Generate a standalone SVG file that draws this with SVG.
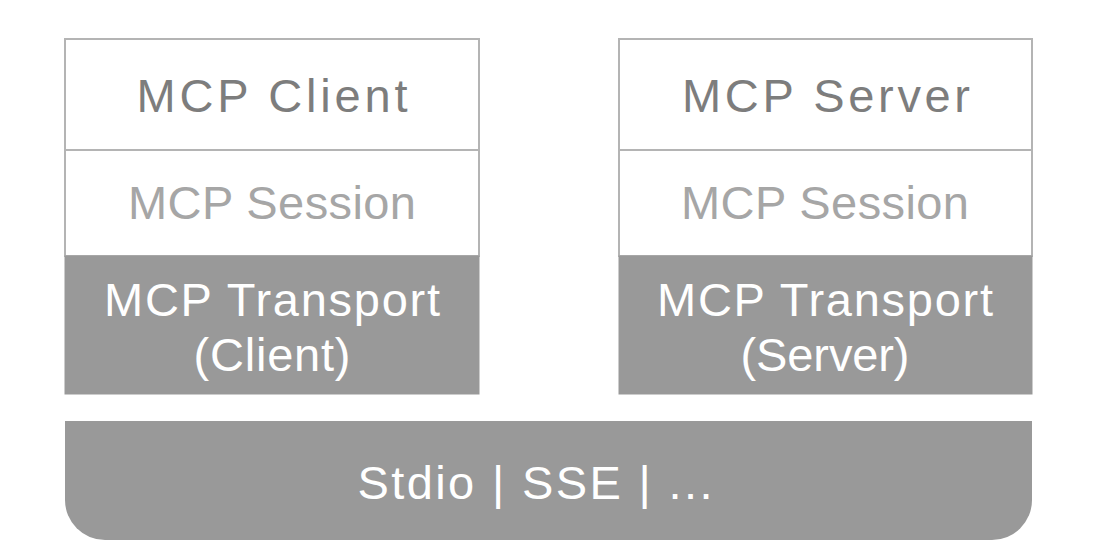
<svg xmlns="http://www.w3.org/2000/svg" width="1098" height="560" viewBox="0 0 1098 560">
<style>
.box{fill:#fff;stroke:#b4b4b4;stroke-width:2}
.dark{fill:#999;stroke:#999;stroke-width:1}
.t{font-family:"Liberation Sans",Arial,sans-serif;font-size:47px;text-anchor:middle}
.title{fill:#7d7d7d}
.sess{fill:#a6a6a6}
.w{fill:#fff}
</style>
<rect width="1098" height="560" fill="#fff"/>
<g id="client-stack">
  <g id="mcp-client">
    <rect class="box" x="65" y="39" width="414" height="111"/>
    <text class="t title" x="272" y="112" textLength="271" lengthAdjust="spacing">MCP Client</text>
  </g>
  <g id="client-session">
    <rect class="box" x="65" y="150" width="414" height="106"/>
    <text class="t sess" x="272" y="219" textLength="288" lengthAdjust="spacing">MCP Session</text>
  </g>
  <g id="client-transport">
    <rect class="dark" x="65" y="256" width="414" height="138"/>
    <text class="t w" x="272" y="316" textLength="336" lengthAdjust="spacing">MCP Transport</text>
    <text class="t w" x="272" y="371" textLength="157" lengthAdjust="spacing">(Client)</text>
  </g>
</g>
<g id="server-stack">
  <g id="mcp-server">
    <rect class="box" x="619" y="39" width="413" height="111"/>
    <text class="t title" x="826" y="112" textLength="288" lengthAdjust="spacing">MCP Server</text>
  </g>
  <g id="server-session">
    <rect class="box" x="619" y="150" width="413" height="106"/>
    <text class="t sess" x="825" y="219" textLength="288" lengthAdjust="spacing">MCP Session</text>
  </g>
  <g id="server-transport">
    <rect class="dark" x="619" y="256" width="413" height="138"/>
    <text class="t w" x="825" y="316" textLength="336" lengthAdjust="spacing">MCP Transport</text>
    <text class="t w" x="825" y="371" textLength="169" lengthAdjust="spacing">(Server)</text>
  </g>
</g>
<g id="transport-layer">
  <path d="M65 421 H1032 V500 A40 40 0 0 1 992 540 H105 A40 40 0 0 1 65 500 Z" fill="#999"/>
  <text class="t w" x="535" y="499" textLength="355" lengthAdjust="spacing">Stdio | SSE | ...</text>
</g>
<g id="connectors"/>
</svg>
